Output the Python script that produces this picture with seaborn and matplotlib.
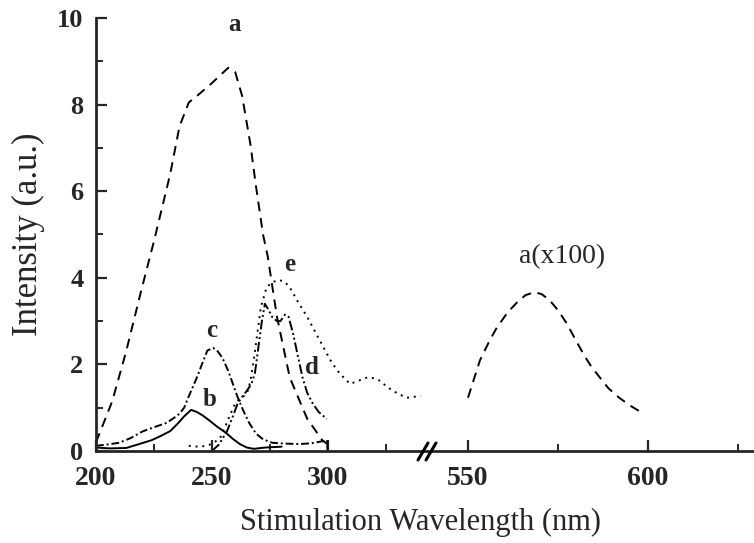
import matplotlib
matplotlib.use('Agg')
import matplotlib.pyplot as plt
import seaborn as sns
from matplotlib.lines import Line2D

# Curvas (comprimento de onda em nm, intensidade em u.a.)
a_x = [200, 207, 213, 219, 225, 232, 236, 240, 243.5, 249, 257, 260, 263, 266.5,
       269, 272, 274, 278, 283.5, 291, 297.5, 300]
a_y = [0.2, 1.15, 2.3, 3.6, 4.85, 6.4, 7.5, 8.05, 8.2, 8.45, 8.85, 8.75, 8.2, 7.1,
       6.1, 5.0, 4.5, 3.1, 1.7, 0.75, 0.25, 0.15]

b_x = [200, 206, 213, 218, 224, 228, 232, 235, 238, 241, 243.5, 246, 249, 252,
       256, 259, 262, 265, 268, 273, 280]
b_y = [0.08, 0.06, 0.07, 0.15, 0.25, 0.35, 0.46, 0.62, 0.8, 0.95, 0.9, 0.82, 0.7,
       0.57, 0.42, 0.28, 0.16, 0.08, 0.05, 0.08, 0.1]

c_x = [200, 205, 210, 215, 220, 225, 230.5, 234, 236, 238, 239.5, 241.5, 243.5,
       246, 248, 250.5, 252.5, 254.5, 257, 259, 261, 263.5, 266, 269, 272, 276,
       282, 288, 293, 298, 299.6, 299.8]
c_y = [0.12, 0.15, 0.19, 0.3, 0.45, 0.55, 0.65, 0.78, 0.86, 1.0, 1.2, 1.45, 1.7,
       2.05, 2.32, 2.38, 2.3, 2.15, 1.85, 1.55, 1.25, 0.93, 0.65, 0.4, 0.27, 0.19,
       0.17, 0.16, 0.18, 0.23, 0.25, 0.0]

d_x = [250, 253, 256.5, 259, 261, 263, 265, 267, 268.5, 270, 271.5, 272.8, 274.5,
       276, 278, 279.5, 281.5, 283, 285, 287, 289, 291, 293.5, 296, 299.5]
d_y = [0.0, 0.15, 0.46, 0.8, 1.09, 1.25, 1.39, 1.55, 1.8, 2.4, 3.0, 3.4, 3.25,
       3.09, 3.0, 3.0, 3.15, 3.1, 2.7, 2.2, 1.7, 1.35, 1.09, 0.9, 0.74]

e_x = [240, 244, 248, 251, 253.5, 256, 258, 260, 262, 265, 266.5, 268, 269.5, 271,
       273.5, 276, 279, 281.5, 283.5, 287, 291, 294.5, 298, 301, 304, 307, 309.5,
       313, 317, 320, 322.5, 325, 328, 331, 334, 337, 340]
e_y = [0.12, 0.1, 0.12, 0.2, 0.3, 0.6, 0.86, 1.1, 1.2, 1.32, 1.6, 2.1, 2.7, 3.3,
       3.78, 3.9, 3.95, 3.9, 3.78, 3.45, 3.1, 2.75, 2.4, 2.1, 1.86, 1.68, 1.55,
       1.62, 1.7, 1.68, 1.62, 1.5, 1.39, 1.3, 1.23, 1.25, 1.28]

a100_x = [550, 553.3, 556, 558, 561, 563.6, 566, 568.5, 570.5, 572.7, 575, 577.4,
          580, 582, 584, 586.6, 589, 592, 595, 598.4]
a100_y = [1.23, 2.09, 2.55, 2.85, 3.2, 3.43, 3.6, 3.67, 3.62, 3.48, 3.25, 2.95,
          2.55, 2.25, 1.98, 1.7, 1.45, 1.23, 1.05, 0.88]

sns.set_style('ticks')
plt.rcParams['font.family'] = ['Liberation Serif', 'DejaVu Serif']

W, H = 754, 543
fig = plt.figure(figsize=(W / 100, H / 100), dpi=100)
y0, y1 = 451, 18
xl, xb, xr = 96, 428, 754
ax1 = fig.add_axes([xl / W, 1 - y0 / H, (xb - xl) / W, (y0 - y1) / H])
ax2 = fig.add_axes([xb / W, 1 - y0 / H, (xr - xb) / W, (y0 - y1) / H], sharey=ax1)

lw = 1.4
kw = dict(color='black', linewidth=lw, sort=False, estimator=None)
sns.lineplot(x=a_x, y=a_y, ax=ax1, linestyle=(0, (5, 3.5)), **kw)
sns.lineplot(x=b_x, y=b_y, ax=ax1, linestyle='-', **kw)
sns.lineplot(x=c_x, y=c_y, ax=ax1, linestyle=(0, (4, 1.5, 1, 1.5)), **kw)
sns.lineplot(x=d_x, y=d_y, ax=ax1, linestyle=(0, (5, 1.5, 1, 1.5, 1, 1.5)), **kw)
sns.lineplot(x=e_x, y=e_y, ax=ax1, linestyle=(0, (1, 2.5)), **kw)
sns.lineplot(x=a100_x, y=a100_y, ax=ax2, linestyle=(0, (5, 3.5)), **kw)

ax1.set_xlim(200, 200 + (xb - xl) / 2.32)
ax2.set_xlim(550 - (468 - xb) / 3.6, 550 + (xr - 468) / 3.6)
ax1.set_ylim(0, 10)

ax1.set_xticks([200, 250, 300])
ax1.set_xticks([225, 275, 325], minor=True)
ax2.set_xticks([550, 600])
ax2.set_xticks([575, 625], minor=True)
ax1.set_yticks([0, 2, 4, 6, 8, 10])
ax1.set_yticks([1, 3, 5, 7, 9], minor=True)

for ax in (ax1, ax2):
    ax.spines['top'].set_visible(False)
    ax.spines['right'].set_visible(False)
    ax.spines['bottom'].set_linewidth(2)
    ax.tick_params(axis='both', which='major', direction='in', length=8, width=1.6,
                   labelsize=20)
    ax.tick_params(axis='both', which='minor', direction='in', length=5, width=1.4)
    ax.tick_params(axis='x', which='major', pad=11)
    ax.set_xlabel('')
    ax.set_ylabel('')
    for lab in ax.get_xticklabels() + ax.get_yticklabels():
        lab.set_fontweight('bold')
ax1.spines['left'].set_linewidth(2)
ax1.tick_params(axis='y', which='major', pad=9, labelsize=19)
ax2.spines['left'].set_visible(False)
ax2.tick_params(axis='y', which='both', left=False, labelleft=False)

# marcas de quebra do eixo x
for dx in (-5, 3):
    fig.add_artist(Line2D([(xb + dx - 5) / W, (xb + dx + 5) / W],
                          [1 - (y0 + 9) / H, 1 - (y0 - 8) / H],
                          color='black', linewidth=2.2))

# rótulos das curvas
ax1.text(259.9, 9.86, 'a', fontsize=18, fontweight='bold', ha='center', va='center')
ax1.text(283.6, 4.3, 'e', fontsize=18, fontweight='bold', ha='center', va='center')
ax1.text(250, 2.79, 'c', fontsize=18, fontweight='bold', ha='center', va='center')
ax1.text(249, 1.18, 'b', fontsize=18, fontweight='bold', ha='center', va='center')
ax1.text(293, 1.92, 'd', fontsize=18, fontweight='bold', ha='center', va='center')
ax2.text(576, 4.5, 'a(x100)', fontsize=20, ha='center', va='center')

fig.text(421 / W, 1 - 522 / H, 'Stimulation Wavelength (nm)', fontsize=22,
         ha='center', va='center')
fig.text(28 / W, 1 - 234 / H, 'Intensity (a.u.)', fontsize=25, rotation=90,
         ha='center', va='center')

fig.savefig('out.png', dpi=100)
